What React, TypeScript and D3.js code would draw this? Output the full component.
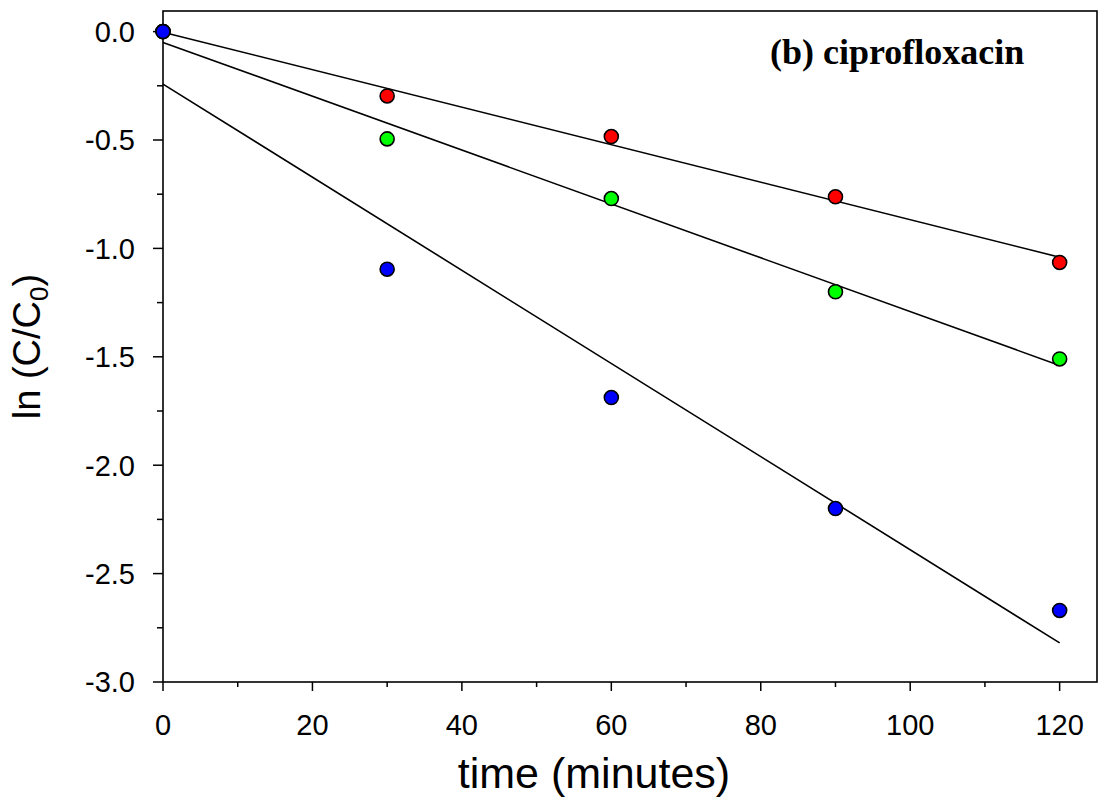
import * as d3 from 'd3'

// sampling times (minutes)
const times = [0, 30, 60, 90, 120]

// ln(C/C0) for each series
const redValues = [0, -0.297, -0.484, -0.762, -1.065]
const greenValues = [0, -0.495, -0.77, -1.2, -1.51]
const blueValues = [0, -1.096, -1.688, -2.2, -2.67]

const seriesColors = ['#ff0000', '#00ff00', '#0000ff']

const xMajorTicks = [0, 20, 40, 60, 80, 100, 120]
const xMinorTicks = [10, 30, 50, 70, 90, 110]
const yMajorTicks = [0, -0.5, -1, -1.5, -2, -2.5, -3]
const yMinorTicks = [-0.25, -0.75, -1.25, -1.75, -2.25, -2.75]

const width = 1099
const height = 810
const margin = { top: 11, right: 2, bottom: 128, left: 163 }

// ordinary least squares fit, used for the straight lines
const fit = (xs: number[], ys: number[]) => {
  const mx = d3.mean(xs) as number
  const my = d3.mean(ys) as number
  let sxy = 0
  let sxx = 0
  xs.forEach((x, i) => {
    sxy += (x - mx) * (ys[i] - my)
    sxx += (x - mx) * (x - mx)
  })
  const slope = sxy / sxx
  return { slope, intercept: my - slope * mx }
}

const App = () => {
  const x = d3.scaleLinear().domain([0, 125]).range([margin.left, width - margin.right])
  const y = d3.scaleLinear().domain([-3, 0.095]).range([height - margin.bottom, margin.top])

  const series = [redValues, greenValues, blueValues].map((vals, i) => ({
    color: seriesColors[i],
    points: times.map((t, j) => ({ t, v: vals[j] })),
    line: fit(times, vals),
  }))

  const x0 = x(0)
  const y0 = y(-3)
  const font = 'Liberation Sans, Arial, Helvetica, sans-serif'

  return (
    <svg width={width} height={height} style={{ position: 'absolute', left: 0, top: 0 }}>
      <rect x={0} y={0} width={width} height={height} fill="#fff" />

      {/* fitted lines, drawn from t = 0 to t = 120 */}
      {series.map((s, i) => {
        const ends = [times[0], times[times.length - 1]]
        const path = d3.line<number>()
          .x(t => x(t))
          .y(t => y(s.line.intercept + s.line.slope * t))(ends)
        return <path key={'l' + i} d={path ?? ''} fill="none" stroke="#000" strokeWidth={1.6} />
      })}

      {/* frame */}
      <rect x={x0} y={margin.top} width={x(125) - x0} height={y0 - margin.top}
        fill="none" stroke="#000" strokeWidth={1.6} />

      {/* x ticks */}
      {xMajorTicks.map(t => (
        <g key={'xt' + t}>
          <line x1={x(t)} x2={x(t)} y1={y0} y2={y0 + 9} stroke="#000" strokeWidth={1.5} />
          <text x={x(t)} y={y0 + 53} textAnchor="middle" fontFamily={font} fontSize={29}>{t}</text>
        </g>
      ))}
      {xMinorTicks.map(t => (
        <line key={'xm' + t} x1={x(t)} x2={x(t)} y1={y0} y2={y0 + 5} stroke="#000" strokeWidth={1.5} />
      ))}

      {/* y ticks */}
      {yMajorTicks.map(t => (
        <g key={'yt' + t}>
          <line x1={x0 - 10} x2={x0} y1={y(t)} y2={y(t)} stroke="#000" strokeWidth={1.5} />
          <text x={x0 - 28} y={y(t)} dy="0.36em" textAnchor="end" fontFamily={font} fontSize={29}>
            {d3.format('.1f')(t).replace('−', '-')}
          </text>
        </g>
      ))}
      {yMinorTicks.map(t => (
        <line key={'ym' + t} x1={x0 - 6} x2={x0} y1={y(t)} y2={y(t)} stroke="#000" strokeWidth={1.5} />
      ))}

      {/* data points */}
      {series.map((s, i) => s.points.map(p => (
        <circle key={'p' + i + '-' + p.t} cx={x(p.t)} cy={y(p.v)} r={7}
          fill={s.color} stroke="#000" strokeWidth={1.6} />
      )))}

      {/* axis titles */}
      <text x={594} y={788} textAnchor="middle" fontFamily={font} fontSize={43}>time (minutes)</text>
      <text transform={`translate(40, ${(margin.top + y0) / 2}) rotate(-90)`} textAnchor="middle"
        fontFamily={font} fontSize={38}>
        ln (C/C<tspan fontSize={26} dy={8}>0</tspan><tspan dy={-8}>)</tspan>
      </text>

      <text x={770} y={64} fontFamily="Liberation Serif, Times New Roman, serif" fontWeight="bold" fontSize={36}>
        (b) ciprofloxacin
      </text>
    </svg>
  )
}

export default App
